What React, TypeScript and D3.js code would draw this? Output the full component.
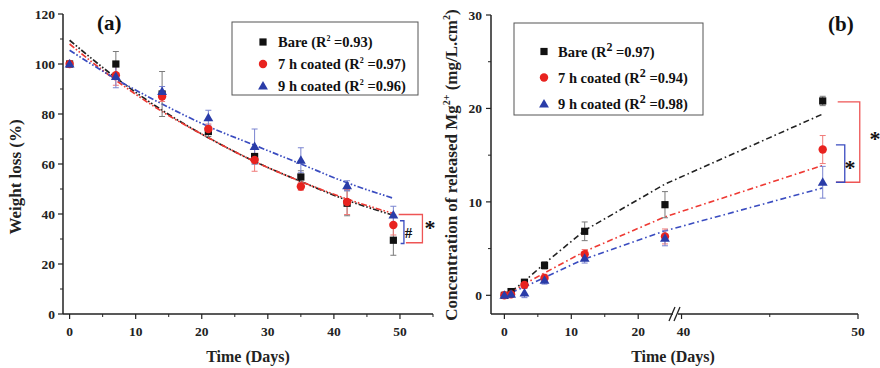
import React from "react";
import * as d3 from "d3";

// ---------- Panel (a): weight loss ----------
const daysA = [0, 7, 14, 21, 28, 35, 42, 49];
const bareA = [100, 100, 88, 73, 63, 54.8, 44.3, 29.5];
const bareErrA = [0.5, 5, 9, 2, 3, 2.5, 5, 6];
const coat7A = [100, 95.5, 87, 74, 61.6, 51, 44.8, 35.6];
const coat7ErrA = [0.5, 4, 2, 2, 4.5, 1.5, 5, 4];
const coat9A = [100, 95, 89, 78.5, 67, 61.5, 51.3, 39.6];
const coat9ErrA = [0.5, 4.5, 2, 3, 7, 5, 2, 3.5];
const fitBareA = [109.5, 94.5, 81.5, 70.5, 61, 53, 45.5, 39.5];
const fit7A = [108, 93.5, 81, 70.5, 61, 53, 46, 40.2];
const fit9A = [105.5, 94, 84, 75, 67.5, 60, 52.5, 46.3];
const xTicksA = [0, 10, 20, 30, 40, 50];
const xMinorA = [5, 15, 25, 35, 45, 55];
const yTicksA = [0, 20, 40, 60, 80, 100, 120];
const yMinorA = [10, 30, 50, 70, 90, 110];
const legendA = [
  { name: "Bare", r2: "0.93" },
  { name: "7 h coated", r2: "0.97" },
  { name: "9 h coated", r2: "0.96" },
];

// ---------- Panel (b): released Mg2+ ----------
const daysB = [0, 1, 3, 6, 12, 24, 48];
const bareB = [0, 0.4, 1.4, 3.2, 6.85, 9.7, 20.8];
const bareErrB = [0.1, 0.2, 0.3, 0.4, 1.0, 1.4, 0.5];
const coat7B = [0, 0.1, 1.1, 1.85, 4.4, 6.3, 15.6];
const coat7ErrB = [0.1, 0.1, 0.3, 0.4, 0.5, 0.8, 1.5];
const coat9B = [0, 0.1, 0.25, 1.6, 3.95, 6.1, 12.1];
const coat9ErrB = [0.1, 0.1, 0.5, 0.4, 0.5, 0.8, 1.7];
const fitDaysB = [1, 3, 6, 12, 24, 48];
const fitBareB = [0.4, 1.5, 3.4, 6.95, 11.9, 19.4];
const fit7B = [0.3, 1.2, 2.4, 4.7, 8.4, 13.9];
const fit9B = [0.3, 0.9, 1.9, 3.9, 6.9, 11.5];
const xTicksB = [0, 10, 20, 40, 50];
const xMinorB = [5, 15, 45];
const yTicksB = [0, 10, 20, 30];
const yMinorB = [5, 15, 25];
const legendB = [
  { name: "Bare", r2: "0.97" },
  { name: "7 h coated", r2: "0.94" },
  { name: "9 h coated", r2: "0.98" },
];

const FONT = "'Liberation Serif','Times New Roman',serif";
const BLACK = "#111";
const RED = "#e8231f";
const BLUE = "#2a3ca8";
const ERR = ["#7a7a7a", "#f07a78", "#7a84d0"];
const FITC = ["#222", "#ee3a34", "#3a4cc0"];

// scales
const xA = d3.scaleLinear().domain([-1, 55]).range([63, 433]);
const yA = d3.scaleLinear().domain([0, 120]).range([314, 14]);
const xB1 = d3.scaleLinear().domain([-2, 25.2]).range([491, 673]);
const xB2 = d3.scaleLinear().domain([39.8, 50]).range([678, 858]);
const xB = (d: number) => (d <= 26 ? xB1(d) : xB2(d));
const yB = d3.scaleLinear().domain([-2, 30]).range([314, 15]);

function Marker({ kind, x, y }: { kind: number; x: number; y: number }) {
  if (kind === 0) return <rect x={x - 3.6} y={y - 3.6} width={7.2} height={7.2} fill={BLACK} />;
  if (kind === 1) return <circle cx={x} cy={y} r={4.2} fill={RED} />;
  const p = d3.symbol().type(d3.symbolTriangle).size(42)();
  return <path d={p || ""} transform={`translate(${x},${y + 0.6})`} fill={BLUE} />;
}

function ErrBar({ x, y0, y1, color }: { x: number; y0: number; y1: number; color: string }) {
  return (
    <g stroke={color} strokeWidth={1}>
      <line x1={x} x2={x} y1={y0} y2={y1} />
      <line x1={x - 3} x2={x + 3} y1={y0} y2={y0} />
      <line x1={x - 3} x2={x + 3} y1={y1} y2={y1} />
    </g>
  );
}

function Legend({ x, y, w, h, rows, items, big }: any) {
  return (
    <g>
      <rect x={x} y={y} width={w} height={h} fill="white" stroke="#555" strokeWidth={1} />
      {items.map((it: any, i: number) => (
        <g key={i}>
          <Marker kind={i} x={x + (big ? 30 : 31)} y={rows[i]} />
          <text x={x + (big ? 44 : 46)} y={rows[i] + 5} fontFamily={FONT} fontWeight="bold" fontSize={14.5} fill="#111">
            <tspan>{it.name} (R</tspan>
            <tspan dy={-6} fontSize={big ? 12 : 8}>2</tspan>
            <tspan dy={6}> ={it.r2})</tspan>
          </text>
        </g>
      ))}
    </g>
  );
}

export default function App() {
  const lineA = d3
    .line<number>()
    .x((_, i) => xA(daysA[i]))
    .y((v) => yA(v))
    .curve(d3.curveMonotoneX);
  const lineB = d3
    .line<number>()
    .x((_, i) => xB(fitDaysB[i]))
    .y((v) => yB(v))
    .curve(d3.curveLinear);

  const seriesA = [
    { v: bareA, e: bareErrA },
    { v: coat7A, e: coat7ErrA },
    { v: coat9A, e: coat9ErrA },
  ];
  const seriesB = [
    { v: bareB, e: bareErrB },
    { v: coat7B, e: coat7ErrB },
    { v: coat9B, e: coat9ErrB },
  ];
  const fitsA = [fitBareA, fit7A, fit9A];
  const fitsB = [fitBareB, fit7B, fit9B];

  const tickText = { fontFamily: FONT, fontWeight: "bold" as const, fontSize: 13.5, fill: "#222" };
  const star = (x: number, y: number, key: string) => (
    <text key={key} x={x} y={y + 8} textAnchor="middle" fontFamily={FONT} fontWeight="bold" fontSize={22} fill="#111">
      *
    </text>
  );

  return (
    <svg width={880} height={368} style={{ position: "absolute", left: 0, top: 0, background: "white" }}>
      <rect width={880} height={368} fill="white" />
      {/* ================= Panel (a) ================= */}
      <g>
        <line x1={63} x2={433} y1={314} y2={314} stroke="#222" strokeWidth={1.5} />
        <line x1={63} x2={63} y1={14} y2={314} stroke="#222" strokeWidth={1.5} />
        {xTicksA.map((t) => (
          <g key={"xa" + t}>
            <line x1={xA(t)} x2={xA(t)} y1={314} y2={319} stroke="#222" strokeWidth={1.2} />
            <text x={xA(t)} y={336} textAnchor="middle" {...tickText}>{t}</text>
          </g>
        ))}
        {xMinorA.map((t) => (
          <line key={"xam" + t} x1={xA(t)} x2={xA(t)} y1={314} y2={317} stroke="#222" strokeWidth={1} />
        ))}
        {yTicksA.map((t) => (
          <g key={"ya" + t}>
            <line x1={58} x2={63} y1={yA(t)} y2={yA(t)} stroke="#222" strokeWidth={1.2} />
            <text x={55} y={yA(t) + 5} textAnchor="end" {...tickText}>{t}</text>
          </g>
        ))}
        {yMinorA.map((t) => (
          <line key={"yam" + t} x1={60} x2={63} y1={yA(t)} y2={yA(t)} stroke="#222" strokeWidth={1} />
        ))}
        <text x={248} y={362} textAnchor="middle" fontFamily={FONT} fontWeight="bold" fontSize={16} fill="#222">
          Time (Days)
        </text>
        <text
          transform="translate(21,177) rotate(-90)"
          textAnchor="middle"
          fontFamily={FONT}
          fontWeight="bold"
          fontSize={17}
          fill="#222"
        >
          Weight loss (%)
        </text>
        <text x={97} y={30} fontFamily={FONT} fontWeight="bold" fontSize={21} fill="#111">(a)</text>

        {fitsA.map((f, i) => (
          <path
            key={"fa" + i}
            d={lineA(f) || ""}
            fill="none"
            stroke={FITC[i]}
            strokeWidth={1.7}
            strokeDasharray="6,2,1.6,2,1.6,2"
          />
        ))}
        {seriesA.map((s, si) =>
          s.v.map((v, i) => (
            <ErrBar key={`ea${si}-${i}`} x={xA(daysA[i])} y0={yA(v + s.e[i])} y1={yA(v - s.e[i])} color={ERR[si]} />
          ))
        )}
        {seriesA.map((s, si) =>
          s.v.map((v, i) => <Marker key={`ma${si}-${i}`} kind={si} x={xA(daysA[i])} y={yA(v)} />)
        )}
        <path d={`M${xA(50)},${yA(37.3)} H${xA(50.6)} V${yA(28.2)} H${xA(50.1)}`} fill="none" stroke="#3a4cc0" strokeWidth={1.3} />
        <path d={`M${xA(49.8)},${yA(39.8)} H${xA(53.4)} V${yA(28.5)} H${xA(50.9)}`} fill="none" stroke="#ee5555" strokeWidth={1.3} />
        <text x={xA(51.3)} y={yA(32.6) + 5} textAnchor="middle" fontFamily={FONT} fontWeight="bold" fontSize={15} fill="#111">#</text>
        {star(430, 227, "sa")}

        <Legend x={232} y={22} w={186} h={73} rows={[42, 64, 86]} items={legendA} big={false} />
      </g>

      {/* ================= Panel (b) ================= */}
      <g>
        <line x1={491} x2={673} y1={314} y2={314} stroke="#222" strokeWidth={1.5} />
        <line x1={678} x2={858} y1={314} y2={314} stroke="#222" strokeWidth={1.5} />
        <line x1={491} x2={491} y1={15} y2={314} stroke="#222" strokeWidth={1.5} />
        <line x1={669} x2={675} y1={321} y2={307} stroke="#222" strokeWidth={1.3} />
        <line x1={674} x2={680} y1={321} y2={307} stroke="#222" strokeWidth={1.3} />
        {xTicksB.map((t) => (
          <g key={"xb" + t}>
            <line x1={xB(t)} x2={xB(t)} y1={314} y2={319} stroke="#222" strokeWidth={1.2} />
            <text x={xB(t) + (t === 40 ? 2 : 0)} y={336} textAnchor="middle" {...tickText}>{t}</text>
          </g>
        ))}
        {xMinorB.map((t) => (
          <line key={"xbm" + t} x1={xB(t)} x2={xB(t)} y1={314} y2={317} stroke="#222" strokeWidth={1} />
        ))}
        {yTicksB.map((t) => (
          <g key={"yb" + t}>
            <line x1={486} x2={491} y1={yB(t)} y2={yB(t)} stroke="#222" strokeWidth={1.2} />
            <text x={482} y={yB(t) + 5} textAnchor="end" {...tickText}>{t}</text>
          </g>
        ))}
        {yMinorB.map((t) => (
          <line key={"ybm" + t} x1={488} x2={491} y1={yB(t)} y2={yB(t)} stroke="#222" strokeWidth={1} />
        ))}
        <text x={673} y={362} textAnchor="middle" fontFamily={FONT} fontWeight="bold" fontSize={16} fill="#222">
          Time (Days)
        </text>
        <text
          transform="translate(457,165) rotate(-90)"
          textAnchor="middle"
          fontFamily={FONT}
          fontWeight="bold"
          fontSize={17}
          fill="#222"
        >
          <tspan>Concentration of released Mg</tspan>
          <tspan dy={-7} fontSize={10}>2+</tspan>
          <tspan dy={7}> (mg/L.cm</tspan>
          <tspan dy={-7} fontSize={10}>2</tspan>
          <tspan dy={7}>)</tspan>
        </text>
        <text x={828} y={31} fontFamily={FONT} fontWeight="bold" fontSize={21} fill="#111">(b)</text>

        {fitsB.map((f, i) => (
          <path
            key={"fb" + i}
            d={lineB(f) || ""}
            fill="none"
            stroke={FITC[i]}
            strokeWidth={1.6}
            strokeDasharray="6,3,1.6,3"
          />
        ))}
        {seriesB.map((s, si) =>
          s.v.map((v, i) => (
            <ErrBar key={`eb${si}-${i}`} x={xB(daysB[i])} y0={yB(v + s.e[i])} y1={yB(v - s.e[i])} color={ERR[si]} />
          ))
        )}
        {seriesB.map((s, si) =>
          s.v.map((v, i) => <Marker key={`mb${si}-${i}`} kind={si} x={xB(daysB[i])} y={yB(v)} />)
        )}
        <path
          d={`M${xB(48.85)},${yB(20.7)} H${xB(50.1)} V${yB(12.1)} H${xB(48.75)}`}
          fill="none"
          stroke="#ee5555"
          strokeWidth={1.3}
        />
        <path
          d={`M${xB(48.75)},${yB(16.1)} H${xB(49.25)} V${yB(12.1)} H${xB(48.75)}`}
          fill="none"
          stroke="#3a4cc0"
          strokeWidth={1.3}
        />
        {star(875, 138, "sb1")}
        {star(850, 167, "sb2")}

        <Legend x={514} y={23} w={189} h={92} rows={[51.5, 77.5, 104]} items={legendB} big={true} />
      </g>
    </svg>
  );
}
